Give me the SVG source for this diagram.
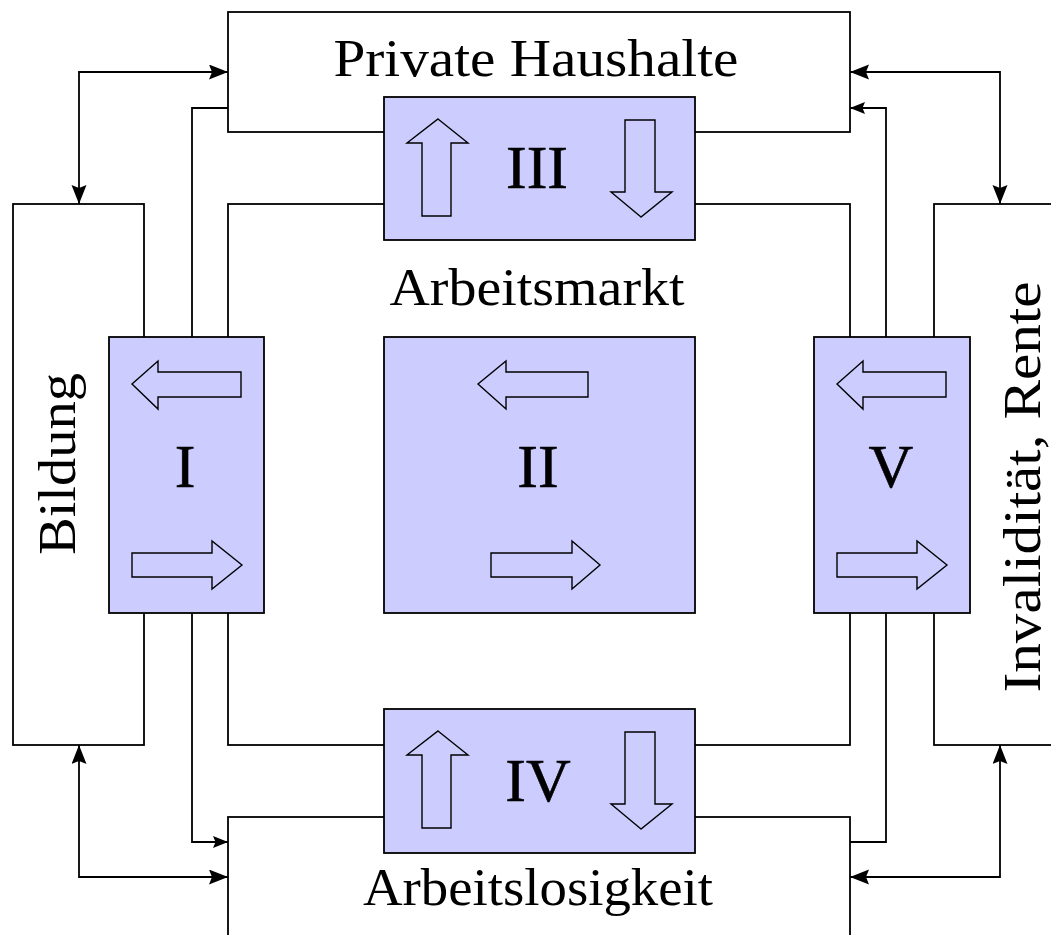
<svg xmlns="http://www.w3.org/2000/svg" width="1051" height="935" viewBox="0 0 1051 935">
<style>
.box{fill:#ffffff;stroke:#000;stroke-width:1.8}
.blue{fill:#ccccff;stroke:#000;stroke-width:1.8}
.ln{fill:none;stroke:#000;stroke-width:1.8}
.ha{fill:none;stroke:#000;stroke-width:1.4;stroke-linejoin:miter}
.lbl{font-family:"Liberation Serif","Times New Roman",serif;font-size:53px;fill:#000}
.num{font-family:"Liberation Serif","Times New Roman",serif;font-size:62px;fill:#000;text-anchor:middle;stroke:#000;stroke-width:0.6}
</style>
<defs>
<marker id="big" markerUnits="userSpaceOnUse" markerWidth="20" markerHeight="16" refX="19" refY="7.5" orient="auto-start-reverse" viewBox="0 0 20 16">
<path d="M0,0 L19,7.5 L0,15 L3,7.5 Z" fill="#000"/>
</marker>
<marker id="small" markerUnits="userSpaceOnUse" markerWidth="16" markerHeight="13" refX="15" refY="6" orient="auto-start-reverse" viewBox="0 0 16 13">
<path d="M0,0 L15,6 L0,12 L2.5,6 Z" fill="#000"/>
</marker>
</defs>
<rect width="1051" height="935" fill="#ffffff"/>

<g id="arbeitsmarkt">
<rect class="box" x="228" y="204" width="622" height="541"/>
<text class="lbl" x="537" y="305" text-anchor="middle" textLength="295" lengthAdjust="spacingAndGlyphs">Arbeitsmarkt</text>
</g>
<g id="private-haushalte">
<rect class="box" x="228" y="12" width="622" height="120"/>
<text class="lbl" x="536" y="76" text-anchor="middle" textLength="405" lengthAdjust="spacingAndGlyphs">Private Haushalte</text>
</g>
<g id="bildung">
<rect class="box" x="13" y="204" width="131" height="541"/>
<text class="lbl" transform="translate(75,464) rotate(-90)" x="0" y="0" text-anchor="middle" textLength="182" lengthAdjust="spacingAndGlyphs">Bildung</text>
</g>
<g id="invaliditaet-rente">
<rect class="box" x="934" y="204" width="140" height="541"/>
<text class="lbl" transform="translate(1040,487) rotate(-90)" x="0" y="0" text-anchor="middle" textLength="411" lengthAdjust="spacingAndGlyphs">Invalidität, Rente</text>
</g>
<g id="arbeitslosigkeit">
<rect class="box" x="228" y="817" width="622" height="140"/>
<text class="lbl" x="538" y="905" text-anchor="middle" textLength="350" lengthAdjust="spacingAndGlyphs">Arbeitslosigkeit</text>
</g>

<g id="connectors">
<path class="ln" d="M228,72 L79,72 L79,204" marker-start="url(#big)" marker-end="url(#big)"/>
<path class="ln" d="M228,108 L192,108 L192,337"/>
<path class="ln" d="M850,108 L886,108 L886,337" marker-start="url(#small)"/>
<path class="ln" d="M850,72 L1000,72 L1000,204" marker-start="url(#big)" marker-end="url(#big)"/>
<path class="ln" d="M192,613 L192,842 L228,842" marker-end="url(#small)"/>
<path class="ln" d="M79,745 L79,877 L228,877" marker-start="url(#big)" marker-end="url(#big)"/>
<path class="ln" d="M886,613 L886,842 L850,842"/>
<path class="ln" d="M850,877 L1000,877 L1000,745" marker-start="url(#big)" marker-end="url(#big)"/>
</g>

<g id="box-I">
<rect class="blue" x="109" y="337" width="155" height="276"/>
<path class="ha" d="M132,384 L158,361 L158,372 L241,372 L241,397 L158,397 L158,409 Z"/>
<path class="ha" d="M242,565 L212,541 L212,553 L132,553 L132,577 L212,577 L212,589 Z"/>
<text class="num" x="185" y="487">I</text>
</g>
<g id="box-II">
<rect class="blue" x="384" y="337" width="311" height="276"/>
<path class="ha" d="M478,384 L506,361 L506,372 L588,372 L588,397 L506,397 L506,409 Z"/>
<path class="ha" d="M600,565 L572,541 L572,553 L491,553 L491,577 L572,577 L572,589 Z"/>
<text class="num" x="538" y="487">II</text>
</g>
<g id="box-III">
<rect class="blue" x="384" y="97" width="311" height="143"/>
<path class="ha" d="M438,119 L468,143 L451,143 L451,216 L422,216 L422,143 L407,143 Z"/>
<path class="ha" d="M641,217 L611,192 L625,192 L625,120 L655,120 L655,192 L672,192 Z"/>
<text class="num" x="537" y="188">III</text>
</g>
<g id="box-IV">
<rect class="blue" x="384" y="709" width="311" height="144"/>
<path class="ha" d="M438,731 L468,755 L451,755 L451,828 L422,828 L422,755 L407,755 Z"/>
<path class="ha" d="M641,829 L611,804 L625,804 L625,732 L655,732 L655,804 L672,804 Z"/>
<text class="num" x="538" y="801">IV</text>
</g>
<g id="box-V">
<rect class="blue" x="814" y="337" width="156" height="276"/>
<path class="ha" d="M837,384 L863,361 L863,372 L946,372 L946,397 L863,397 L863,409 Z"/>
<path class="ha" d="M947,565 L917,541 L917,553 L837,553 L837,577 L917,577 L917,589 Z"/>
<text class="num" x="891" y="487">V</text>
</g>
</svg>
